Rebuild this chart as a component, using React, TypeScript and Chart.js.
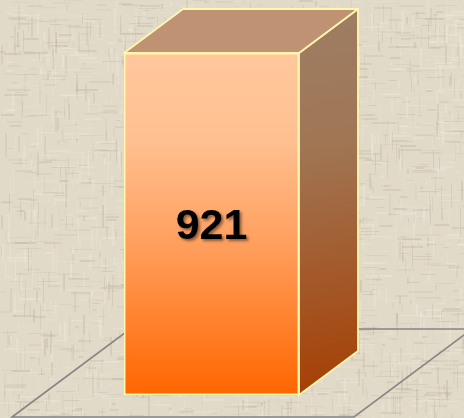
import React, { useEffect, useRef } from "react";
import { Chart, registerables } from "chart.js";

Chart.register(...registerables);

const categories: string[] = [""];
const seriesValues: number[] = [921];
const valueLabels: string[] = ["921"];
const yAxisMin = 0;
const yAxisMax = 921;

function hash(n: number): number {
  const s = Math.sin(n * 12.9898 + 78.233) * 43758.5453;
  return s - Math.floor(s);
}

function makeTexture(w: number, h: number): HTMLCanvasElement {
  const c = document.createElement("canvas");
  c.width = w;
  c.height = h;
  const g = c.getContext("2d")!;
  g.fillStyle = "rgb(225,218,201)";
  g.fillRect(0, 0, w, h);
  let k = 1;
  for (let i = 0; i < 3200; i++) {
    const horiz = hash(k++) < 0.55;
    const x = Math.floor(hash(k++) * w);
    const y = Math.floor(hash(k++) * h);
    const len = 3 + hash(k++) * 22;
    const dark = hash(k++) < 0.5;
    const a = 0.1 + hash(k++) * 0.25;
    g.fillStyle = dark ? `rgba(185,175,150,${a})` : `rgba(242,238,226,${a})`;
    const t = 1 + Math.floor(hash(k++) * 2);
    if (horiz) g.fillRect(x, y, len, t);
    else g.fillRect(x, y, t, len);
  }
  return c;
}

const bar3d = {
  id: "bar3d",
  beforeDraw(chart: any) {
    const ctx = chart.ctx;
    if (!chart.$tex) chart.$tex = makeTexture(chart.width, chart.height);
    ctx.save();
    ctx.drawImage(chart.$tex, 0, 0);
    ctx.restore();
  },
  beforeDatasetsDraw(chart: any) {
    const ctx = chart.ctx;
    const area = chart.chartArea;
    const meta = chart.getDatasetMeta(0);
    const el = meta.data[0];
    if (!el) return;
    const { x, y, width, base } = el.getProps(["x", "y", "width", "base"], true);
    const left = x - width / 2;
    const right = x + width / 2;
    const dx = width * 0.337;
    const dy = -dx * 0.746;

    // floor
    const fy = area.bottom + 22;
    const fl = area.left - 112;
    const fr = area.right + 55;
    const bdx = 118;
    const bdy = -88;
    ctx.save();
    ctx.strokeStyle = "#858585";
    ctx.lineWidth = 1.6;
    ctx.beginPath();
    ctx.moveTo(fl, fy);
    ctx.lineTo(fr, fy);
    ctx.lineTo(fr + bdx, fy + bdy);
    ctx.lineTo(fl + bdx, fy + bdy);
    ctx.closePath();
    ctx.stroke();
    ctx.restore();

    ctx.save();
    ctx.lineJoin = "round";
    ctx.strokeStyle = "#FFF6B0";
    ctx.lineWidth = 1.8;
    // right face
    const rg = ctx.createLinearGradient(right, y + dy, right + dx, base);
    rg.addColorStop(0, "rgb(158,126,100)");
    rg.addColorStop(0.35, "rgb(160,118,85)");
    rg.addColorStop(1, "rgb(166,62,2)");
    ctx.fillStyle = rg;
    ctx.beginPath();
    ctx.moveTo(right, y);
    ctx.lineTo(right + dx, y + dy);
    ctx.lineTo(right + dx, base + dy);
    ctx.lineTo(right, base);
    ctx.closePath();
    ctx.fill();
    ctx.stroke();
    // top face
    ctx.fillStyle = "rgb(192,146,116)";
    ctx.beginPath();
    ctx.moveTo(left, y);
    ctx.lineTo(left + dx, y + dy);
    ctx.lineTo(right + dx, y + dy);
    ctx.lineTo(right, y);
    ctx.closePath();
    ctx.fill();
    ctx.stroke();
    ctx.restore();
  },
  afterDatasetsDraw(chart: any) {
    const ctx = chart.ctx;
    const meta = chart.getDatasetMeta(0);
    meta.data.forEach((el: any, i: number) => {
      const { x, y, base } = el.getProps(["x", "y", "base"], true);
      ctx.save();
      ctx.font = "bold 43px 'Liberation Sans', Arial, sans-serif";
      ctx.textAlign = "center";
      ctx.textBaseline = "middle";
      ctx.shadowColor = "rgba(0,0,0,0.45)";
      ctx.shadowOffsetX = 2;
      ctx.shadowOffsetY = 2;
      ctx.shadowBlur = 3;
      ctx.fillStyle = "#000";
      ctx.fillText(valueLabels[i], x, (y + base) / 2 + 3);
      ctx.restore();
    });
  },
};

export default function App() {
  const ref = useRef<HTMLCanvasElement | null>(null);
  useEffect(() => {
    document.body.style.margin = "0";
    const canvas = ref.current!;
    const chart = new Chart(canvas, {
      type: "bar",
      data: {
        labels: categories,
        datasets: [
          {
            data: seriesValues,
            backgroundColor: (c: any) => {
              const area = c.chart.chartArea;
              if (!area) return "#FF8C40";
              const g = c.chart.ctx.createLinearGradient(0, area.top, 0, area.bottom);
              g.addColorStop(0, "rgb(255,200,156)");
              g.addColorStop(0.25, "rgb(255,192,145)");
              g.addColorStop(0.55, "rgb(255,160,95)");
              g.addColorStop(1, "rgb(255,102,0)");
              return g;
            },
            borderColor: "#FFF6B0",
            borderWidth: 1.8,
            borderSkipped: false,
            barPercentage: 1,
            categoryPercentage: 1,
          },
        ],
      },
      options: {
        responsive: false,
        animation: false,
        devicePixelRatio: 1,
        layout: { padding: { left: 124, right: 165, top: 53, bottom: 23 } },
        plugins: { legend: { display: false }, tooltip: { enabled: false } },
        scales: {
          x: { display: false },
          y: { display: false, min: yAxisMin, max: yAxisMax },
        },
      },
      plugins: [bar3d],
    });
    return () => chart.destroy();
  }, []);
  return (
    <div style={{ position: "absolute", left: 0, top: 0, width: 464, height: 418 }}>
      <canvas ref={ref} width={464} height={418} />
    </div>
  );
}
